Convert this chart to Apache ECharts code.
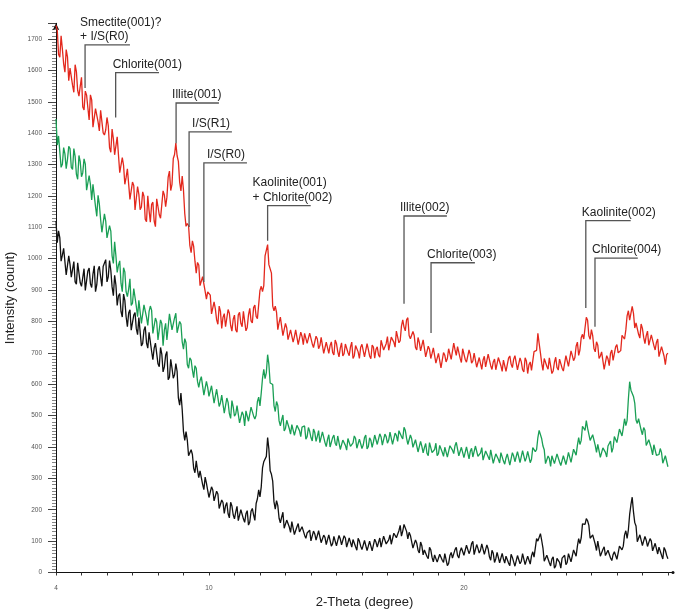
<!DOCTYPE html>
<html>
<head>
<meta charset="utf-8">
<script src="https://cdn.jsdelivr.net/npm/echarts@6/dist/echarts.min.js"></script>
<style>
html, body { margin: 0; padding: 0; background: #fff; }
#chart { width: 675px; height: 610px; }
</style>
</head>
<body>
<div id="chart"></div>
<script>
// Scan grid: 2-theta from 4.00 degrees in 0.05 degree steps
const thetaStart = 4.0;
const thetaStep = 0.05;

// Intensity (count) for each sample, top to bottom
const redCounts = [
  1743,1728,1651,1642,1710,1668,1621,1594,1666,1643,1567,1607,1613,1552,1530,1618,1596,1536,1518,1549,
  1578,1483,1474,1534,1521,1481,1442,1522,1506,1419,1414,1478,1484,1436,1407,1473,1475,1401,1394,1410,
  1450,1424,1354,1339,1413,1382,1331,1334,1388,1382,1274,1276,1322,1297,1237,1259,1286,1280,1189,1195,
  1244,1233,1155,1150,1230,1205,1156,1165,1213,1199,1126,1118,1200,1154,1116,1173,1180,1120,1102,1191,
  1193,1140,1129,1129,1216,1203,1166,1196,1260,1279,1217,1237,1319,1332,1368,1328,1310,1244,1216,1263,
  1219,1144,1103,1112,1105,1042,1019,1057,1039,992,954,988,980,914,908,943,941,896,871,894,
  900,884,824,822,862,840,805,791,849,832,778,813,825,783,778,838,826,787,769,807,
  820,773,766,821,829,794,783,832,833,770,781,821,842,802,795,844,852,816,809,854,
  899,912,895,914,1009,1013,1045,981,987,954,849,834,849,829,774,796,814,810,755,752,
  794,779,742,736,773,769,734,751,773,772,726,730,766,752,726,762,767,730,728,763,
  764,729,717,716,753,744,713,723,749,746,698,700,734,728,698,723,735,701,693,741,
  730,704,687,715,732,690,697,728,732,701,691,719,734,682,691,723,727,703,682,718,
  727,725,687,687,729,711,690,681,725,718,683,711,719,693,686,740,734,709,705,729,
  752,708,710,750,749,734,718,769,768,732,739,785,805,782,770,805,812,755,745,750,
  768,755,717,709,749,733,706,710,741,742,687,693,721,711,682,698,716,715,667,670,
  698,693,652,653,701,692,671,682,713,712,679,680,731,710,692,720,721,683,669,713,
  711,679,670,667,709,695,667,674,699,699,654,653,685,682,647,677,689,655,654,696,
  695,659,647,671,680,646,644,685,685,659,641,677,683,641,646,683,690,664,653,679,
  691,686,646,648,684,671,646,639,684,674,634,662,671,644,644,704,708,708,762,730,
  700,667,644,682,683,657,648,684,683,634,642,670,686,653,645,680,683,651,642,667,
  691,687,657,654,706,692,675,684,721,734,692,709,748,759,744,780,813,804,754,743,
  774,755,714,703,735,724,682,690,703,697,647,653,691,681,659,699,709,676,679,719,
  726,700,697,707,756,761,744,773,818,834,804,810,848,826,779,795,798,759,747,792,
  778,749,729,755,769,724,729,757,758,723,709,733,744,688,694,720,719,689,662,694,
  699
];

const greenCounts = [
  1445,1362,1391,1392,1291,1301,1354,1334,1287,1316,1358,1351,1291,1284,1351,1326,1269,1253,1329,1309,
  1261,1274,1318,1301,1218,1218,1265,1237,1187,1237,1231,1166,1135,1202,1174,1125,1084,1087,1143,1120,
  1066,1068,1105,1088,1009,985,1054,1009,956,979,993,921,895,971,958,894,879,903,936,851,
  858,905,902,848,815,867,861,794,788,853,853,814,787,831,849,836,762,767,811,798,
  741,738,805,793,723,772,794,741,740,824,825,773,774,811,826,764,759,800,792,735,
  712,745,732,663,651,684,677,645,621,659,651,609,590,612,624,619,565,563,609,590,
  561,560,595,595,540,537,584,557,529,541,565,562,508,514,556,542,506,491,548,528,
  498,505,532,527,477,478,512,502,467,515,517,482,479,527,532,499,489,501,545,559,
  531,572,619,647,618,637,694,663,604,606,599,532,513,545,532,483,467,486,502,451,
  459,485,487,458,441,471,471,437,439,469,470,452,433,463,463,467,425,433,462,450,
  430,419,457,446,418,434,452,414,414,448,442,414,401,424,439,400,404,430,438,412,
  404,435,432,392,393,422,421,405,390,427,427,402,400,413,435,427,396,394,425,422,
  395,406,430,438,394,401,429,421,399,416,438,437,408,407,442,432,406,400,441,433,
  412,422,447,444,408,414,444,437,418,452,457,433,426,463,453,428,408,410,438,426,
  399,403,423,419,384,378,418,402,381,398,411,380,372,414,411,382,377,392,412,372,
  379,405,408,383,370,399,399,368,368,404,406,390,379,404,415,410,372,376,399,394,
  366,366,400,396,362,386,396,368,364,403,400,370,367,381,398,358,360,387,391,369,
  359,391,390,348,347,378,379,361,349,382,381,355,345,365,378,378,342,344,382,371,
  353,356,385,387,350,351,388,371,354,366,386,387,350,361,398,399,385,392,430,453,
  458,426,403,391,347,347,371,363,338,372,373,347,345,378,380,352,341,345,372,374,
  344,362,383,389,351,357,393,393,374,405,430,408,421,466,462,453,484,460,466,421,
  417,439,438,405,383,408,404,367,367,397,397,383,368,403,409,419,383,397,433,427,
  414,411,457,455,435,461,490,468,485,553,608,581,575,561,540,486,475,490,488,454,
  439,462,453,405,400,423,417,395,375,407,403,373,367,376,395,382,348,343,372,366,
  337
];

const blackCounts = [
  1120,1051,1089,1066,992,1011,1033,1033,948,945,1009,982,941,966,991,926,919,987,984,923,
  912,940,968,899,894,961,970,920,908,951,977,895,917,965,976,942,912,975,975,997,
  926,942,994,963,910,882,947,916,851,881,889,831,814,887,867,815,783,827,837,772,
  766,820,828,777,758,812,811,722,730,772,784,732,715,765,769,705,678,715,731,730,
  665,656,717,696,639,655,692,704,614,622,679,651,619,630,666,641,556,533,572,519,
  449,421,449,422,372,377,391,376,332,318,356,326,302,324,321,281,264,304,285,262,
  239,242,273,263,228,234,259,250,204,199,231,223,188,213,223,187,174,224,212,184,
  171,193,211,165,171,200,206,171,160,187,197,151,161,195,204,184,166,220,235,263,
  241,273,333,353,352,370,430,393,324,313,291,225,202,229,213,173,158,176,192,141,
  146,167,167,145,128,162,160,121,127,146,156,129,123,146,146,119,109,126,132,135,
  101,102,132,123,103,106,133,132,95,96,119,112,89,105,120,121,84,92,115,112,
  85,81,118,107,88,94,117,110,81,79,110,96,81,105,110,82,71,109,100,84,
  73,75,102,98,70,84,100,104,69,72,106,97,81,96,110,81,80,116,117,91,
  88,104,120,90,90,125,131,111,108,133,150,116,132,153,156,131,107,128,118,120,
  78,82,104,93,71,62,97,85,56,72,77,51,44,80,72,48,34,56,62,33,
  31,58,62,39,32,60,61,22,29,54,64,46,43,73,80,54,46,68,79,82,
  55,54,87,82,60,71,92,99,57,61,89,77,62,71,91,89,58,58,88,75,
  50,39,71,61,32,44,64,59,31,26,61,43,30,52,56,30,22,58,48,34,
  20,26,54,50,28,36,60,57,25,24,52,50,27,53,66,49,50,108,100,104,
  124,102,78,36,34,55,58,31,21,43,50,14,21,45,51,32,14,46,47,55,
  25,32,60,55,34,38,72,76,52,84,108,92,110,155,150,153,172,165,150,109,
  103,120,116,90,70,100,94,52,56,73,82,54,48,71,72,46,38,57,66,72,
  42,48,84,83,72,84,120,133,109,136,185,216,240,193,159,148,98,101,120,115,
  86,80,115,103,83,87,108,100,69,64,93,76,59,81,84,55,43,80,71,55,
  44
];

// Peak assignments: position (2-theta), leader top / bottom (count), leader end (2-theta)
const peakNames = [
  'Smectite(001)?\n+ I/S(R0)', 'Chlorite(001)', 'Illite(001)', 'I/S(R1)', 'I/S(R0)',
  'Kaolinite(001)\n+ Chlorite(002)', 'Illite(002)', 'Chlorite(003)', 'Kaolinite(002)', 'Chlorite(004)'
];
const peakTheta = [5.14, 6.34, 8.71, 9.22, 9.80, 12.30, 17.65, 18.71, 24.78, 25.14];
const leaderTop = [1681, 1593, 1496, 1404, 1305, 1169, 1136, 987, 1121, 1002];
const leaderBottom = [1544, 1450, 1368, 1101, 926, 1057, 856, 763, 843, 783];
const leaderEnd = [6.90, 8.04, 10.39, 10.90, 11.49, 13.99, 19.33, 20.43, 26.54, 26.82];

// Axis tick labels that are printed
const xTickLabels = [4, 10, 20];

// Horizontal nudge of each label relative to its leader (px)
const labelShift = [-5, -3, -4, 3, 3, -15, -4, -4, -4, -3];

function toPairs(counts) {
  return counts.map((c, i) => [Math.round((thetaStart + i * thetaStep) * 100) / 100, c]);
}

const peakData = peakTheta.map((t, i) => [t, leaderTop[i], leaderBottom[i], leaderEnd[i]]);

const chart = echarts.init(document.getElementById('chart'), null, { renderer: 'canvas' });

const font = 'Liberation Sans, Arial, Helvetica, sans-serif';

chart.setOption({
  animation: false,
  backgroundColor: '#ffffff',
  grid: { left: 56, right: 2, top: 23.3, bottom: 37.5, containLabel: false, outerBoundsMode: 'none' },
  xAxis: {
    type: 'value',
    min: 4,
    max: 28.2,
    interval: 1,
    name: '2-Theta (degree)',
    nameLocation: 'middle',
    nameGap: 23,
    nameTextStyle: { fontFamily: font, fontSize: 13, color: '#222' },
    axisLine: { show: true, lineStyle: { color: '#111', width: 1 }, symbol: ['none', 'circle'], symbolSize: [3, 3] },
    axisTick: { show: true, inside: false, length: 3, lineStyle: { color: '#333', width: 1 } },
    axisLabel: {
      margin: 12,
      fontFamily: font,
      fontSize: 6.5,
      color: '#555',
      showMaxLabel: false,
      formatter: v => (xTickLabels.indexOf(Math.round(v * 100) / 100) >= 0 ? String(v) : '')
    },
    splitLine: { show: false }
  },
  yAxis: {
    type: 'value',
    min: 0,
    max: 1750,
    interval: 100,
    name: 'Intensity (count)',
    nameLocation: 'middle',
    nameGap: 33,
    nameTextStyle: { fontFamily: font, fontSize: 13, color: '#222' },
    axisLine: { show: true, lineStyle: { color: '#111', width: 1 }, symbol: ['none', 'arrow'], symbolSize: [5, 7] },
    axisTick: { show: true, inside: false, length: 8, lineStyle: { color: '#444', width: 1 } },
    minorTick: { show: true, splitNumber: 10, length: 4, lineStyle: { color: '#666', width: 0.8 } },
    axisLabel: {
      margin: 14,
      fontFamily: font,
      fontSize: 6.5,
      color: '#555',
      formatter: v => (v % 100 === 0 && v <= 1700 ? String(v) : '')
    },
    splitLine: { show: false },
    minorSplitLine: { show: false }
  },
  series: [
    {
      type: 'line',
      data: toPairs(greenCounts),
      showSymbol: false,
      symbol: 'none',
      lineStyle: { color: '#1a9f55', width: 1.3 },
      z: 2
    },
    {
      type: 'line',
      data: toPairs(blackCounts),
      showSymbol: false,
      symbol: 'none',
      lineStyle: { color: '#111111', width: 1.3 },
      z: 3
    },
    {
      type: 'line',
      data: toPairs(redCounts),
      showSymbol: false,
      symbol: 'none',
      lineStyle: { color: '#e3281d', width: 1.3 },
      z: 4
    },
    {
      type: 'custom',
      data: peakData,
      encode: { x: [0, 3], y: [1, 2] },
      clip: false,
      z: 5,
      renderItem: function (params, api) {
        const idx = params.dataIndex;
        const pTop = api.coord([api.value(0), api.value(1)]);
        const pBot = api.coord([api.value(0), api.value(2)]);
        const pEnd = api.coord([api.value(3), api.value(1)]);
        return {
          type: 'group',
          children: [
            {
              type: 'polyline',
              shape: { points: [pBot, pTop, pEnd] },
              style: { stroke: '#555', lineWidth: 1.3, fill: null }
            },
            {
              type: 'text',
              x: pTop[0] + labelShift[idx],
              y: pTop[1] - 1,
              style: {
                text: peakNames[idx],
                fontFamily: font,
                fontSize: 12,
                lineHeight: 14.5,
                fill: '#222',
                align: 'left',
                verticalAlign: 'bottom'
              }
            }
          ]
        };
      }
    }
  ]
});
</script>
</body>
</html>
